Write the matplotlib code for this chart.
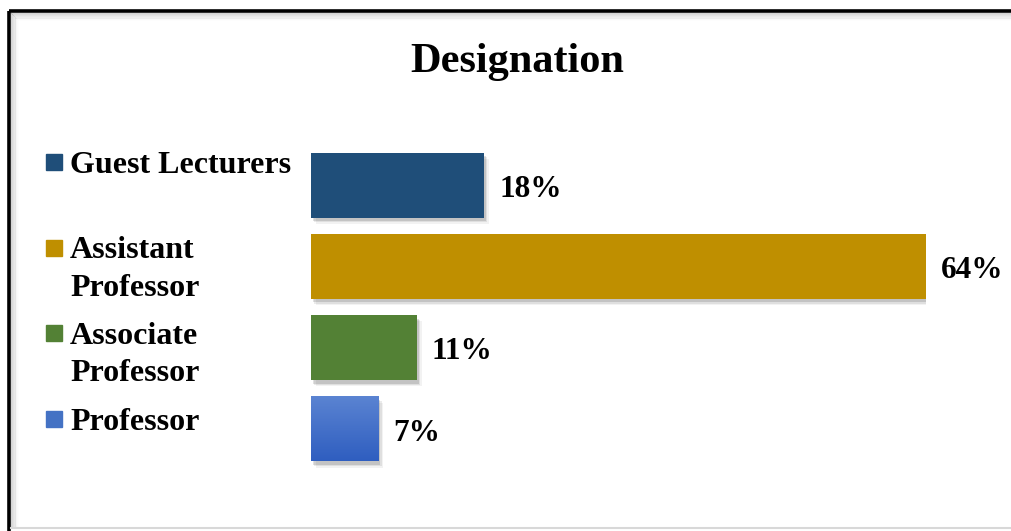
import numpy as np
import matplotlib
matplotlib.use('Agg')
import matplotlib.pyplot as plt
import matplotlib.patheffects as pe
from matplotlib.patches import Rectangle
from matplotlib.lines import Line2D

# Staff designation shares (percent)
categories = ['Guest Lecturers', 'Assistant\nProfessor', 'Associate\nProfessor', 'Professor']
shares = [18, 64, 11, 7]
colors = ['#1F4E79', '#BF8F00', '#538135', '#4472C4']

W, H = 1012, 531
plt.rcParams['font.family'] = ['Liberation Serif', 'DejaVu Serif']
plt.rcParams['font.weight'] = 'bold'

fig = plt.figure(figsize=(W / 100, H / 100), dpi=100)
fig.patch.set_facecolor('white')

def fx(px):
    return px / W

def fy(py):
    return 1 - py / H

# outer frame with a soft inner shadow on top/left
for k in range(10):
    a = 0.16 * (1 - k / 10) ** 2
    off = 2.0 + k * 0.9
    fig.add_artist(Line2D([fx(9 + off), fx(W)], [fy(11 + off)] * 2, color='black',
                          alpha=a, lw=0.8, transform=fig.transFigure))
    fig.add_artist(Line2D([fx(9 + off)] * 2, [fy(11 + off), fy(527)], color='black',
                          alpha=a, lw=0.8, transform=fig.transFigure))
fig.add_artist(Line2D([fx(9), fx(W + 5)], [fy(11), fy(11)], color='black', lw=2.6,
                      transform=fig.transFigure, solid_capstyle='butt'))
fig.add_artist(Line2D([fx(9), fx(9)], [fy(11), fy(H + 5)], color='black', lw=2.6,
                      transform=fig.transFigure, solid_capstyle='butt'))
fig.add_artist(Line2D([fx(11), fx(W)], [fy(528), fy(528)], color='#d8d8d8', lw=1.5,
                      transform=fig.transFigure))

fig.text(fx(517), fy(72), 'Designation', ha='center', va='baseline',
         fontsize=30.5, fontweight='bold')

# bars
ax = fig.add_axes([fx(311), fy(469.5), fx(926) - fx(311), (469.5 - 144.5) / H])
ax.set_xlim(0, 64)
ax.set_ylim(3.5, -0.5)
ax.axis('off')

ypos = np.arange(len(categories))
shadow = [pe.SimplePatchShadow(offset=(1.5, -2.5), shadow_rgbFace='black', alpha=0.12),
          pe.SimplePatchShadow(offset=(2.5, -3.5), shadow_rgbFace='black', alpha=0.08),
          pe.SimplePatchShadow(offset=(3.5, -4.5), shadow_rgbFace='black', alpha=0.05),
          pe.Normal()]
bars = ax.barh(ypos, shares, height=0.8, color=colors, zorder=2)
for b in bars:
    b.set_path_effects(shadow)

# gradient fill on the last bar
gb = bars[-1]
x0, y0 = gb.get_x(), gb.get_y()
grad = np.linspace(0, 1, 100).reshape(-1, 1)
cmap = matplotlib.colors.LinearSegmentedColormap.from_list('g', ['#5B84D2', '#2F5EC0'])
im = ax.imshow(grad, aspect='auto', cmap=cmap, extent=[x0, x0 + gb.get_width(), y0 + gb.get_height(), y0],
               zorder=3)
im.set_clip_path(gb)
ax.set_xlim(0, 64)
ax.set_ylim(3.5, -0.5)

for y, v in zip(ypos, shares):
    ax.annotate(f'{v}%', xy=(v, y), xytext=(11, -8.5), textcoords='offset points',
                ha='left', va='baseline', fontsize=22.5, fontweight='bold')

# legend drawn as colored squares and text, first lines evenly spaced
baselines = [173, 258.5, 344, 430]
for lab, col, base in zip(categories, colors, baselines):
    fig.add_artist(Rectangle((fx(46), fy(base - 3)), fx(16), 16 / H, color=col,
                             transform=fig.transFigure))
    for i, line in enumerate(lab.split('\n')):
        fig.text(fx(70), fy(base + 37 * i), line, ha='left', va='baseline',
                 fontsize=23, fontweight='bold')

fig.savefig('out.png', dpi=100)
